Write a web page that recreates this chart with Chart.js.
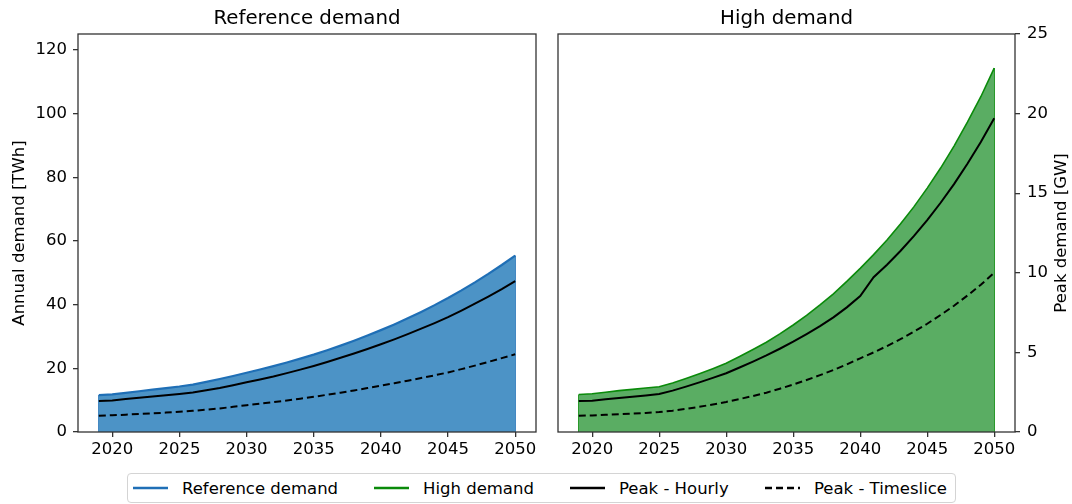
<!DOCTYPE html>
<html>
<head>
<meta charset="utf-8">
<script src="https://cdn.jsdelivr.net/npm/chart.js@4.4.1/dist/chart.umd.min.js"></script>
<style>
body { margin: 0; background: #fff; font-family: "DejaVu Sans", sans-serif; }
#wrap { position: relative; width: 1072px; height: 504px; overflow: hidden; }
canvas { position: absolute; top: 0; }
#left { left: 0; }
#right { left: 546px; }
#legend {
    position: absolute; left: 127px; top: 473px; width: 829px; height: 30px;
    box-sizing: border-box; border: 1px solid #d4d4d4; border-radius: 4px;
    font-size: 16.5px; color: #000; white-space: nowrap;
}
.item { position: absolute; top: 0; height: 28px; display: flex; align-items: center; }
.item svg { margin-right: 14px; }
</style>
</head>
<body>
<div id="wrap">
    <canvas id="left" width="546" height="464"></canvas>
    <canvas id="right" width="526" height="464"></canvas>
    <div id="legend"></div>
</div>
<script>
var years = [2019, 2020, 2021, 2022, 2023, 2024, 2025, 2026, 2027, 2028, 2029, 2030, 2031, 2032, 2033, 2034,
             2035, 2036, 2037, 2038, 2039, 2040, 2041, 2042, 2043, 2044, 2045, 2046, 2047, 2048, 2049, 2050];

// annual demand, TWh
var refDemand = [11.6, 11.8, 12.3, 12.8, 13.3, 13.8, 14.3, 14.9, 15.75, 16.65, 17.6, 18.6, 19.62, 20.7, 21.84, 23.04,
                 24.3, 25.67, 27.12, 28.66, 30.28, 31.99, 33.79, 35.7, 37.72, 39.85, 42.1, 44.48, 46.99, 49.65, 52.45, 55.42];
var highDemand = [11.8, 12.0, 12.5, 13.0, 13.4, 13.8, 14.2, 15.4, 16.8, 18.3, 19.9, 21.6, 23.7, 25.9, 28.2, 30.8,
                  33.6, 36.6, 39.9, 43.4, 47.3, 51.4, 55.7, 60.3, 65.3, 70.7, 76.6, 82.9, 89.8, 97.3, 105.3, 114.3];

// peak demand, GW
var refHourly = [1.95, 1.98, 2.07, 2.15, 2.23, 2.31, 2.39, 2.48, 2.62, 2.77, 2.94, 3.12, 3.30, 3.49, 3.70, 3.92,
                 4.15, 4.40, 4.66, 4.93, 5.21, 5.51, 5.82, 6.15, 6.49, 6.84, 7.21, 7.63, 8.06, 8.51, 8.98, 9.48];
var refTimeslice = [1.02, 1.05, 1.09, 1.13, 1.17, 1.22, 1.27, 1.33, 1.40, 1.48, 1.58, 1.68, 1.78, 1.88, 1.98, 2.09,
                    2.21, 2.34, 2.47, 2.61, 2.76, 2.91, 3.06, 3.22, 3.39, 3.56, 3.74, 3.95, 4.17, 4.40, 4.64, 4.88];
var highHourly = [1.95, 1.97, 2.05, 2.13, 2.21, 2.30, 2.39, 2.60, 2.85, 3.12, 3.40, 3.69, 4.05, 4.42, 4.81, 5.23,
                  5.67, 6.15, 6.65, 7.20, 7.83, 8.54, 9.72, 10.51, 11.37, 12.30, 13.31, 14.40, 15.57, 16.85, 18.22, 19.71];
var highTimeslice = [1.02, 1.04, 1.08, 1.12, 1.16, 1.20, 1.25, 1.34, 1.45, 1.58, 1.73, 1.89, 2.07, 2.26, 2.47, 2.72,
                     2.98, 3.27, 3.57, 3.89, 4.25, 4.63, 5.0, 5.4, 5.83, 6.3, 6.8, 7.35, 7.93, 8.57, 9.25, 10.0];

var xTicks = [2020, 2025, 2030, 2035, 2040, 2045, 2050];
var twhTicks = [0, 20, 40, 60, 80, 100, 120];
var gwTicks = [0, 5, 10, 15, 20, 25];

var FONT = '"DejaVu Sans"';
var AXIS = '#333';

function pts(vals) {
    return years.map(function(y, i) { return {x: y, y: vals[i]}; });
}

// box around the plot area, panel title, right hand label, and the side edges of the filled area
var framePlugin = {
    id: 'frame',
    beforeDatasetsDraw: function(chart, args, opts) {
        var ctx = chart.ctx, x = chart.scales.x, y = chart.scales.twh;
        var d = opts.edge;
        ctx.save();
        ctx.strokeStyle = opts.edgeColor;
        ctx.lineWidth = 1.3;
        [0, d.length - 1].forEach(function(i) {
            var px = x.getPixelForValue(years[i]);
            ctx.beginPath();
            ctx.moveTo(px, y.getPixelForValue(0));
            ctx.lineTo(px, y.getPixelForValue(d[i]));
            ctx.stroke();
        });
        ctx.restore();
    },
    afterDraw: function(chart, args, opts) {
        var a = chart.chartArea, ctx = chart.ctx;
        ctx.save();
        ctx.strokeStyle = AXIS;
        ctx.lineWidth = 1.3;
        ctx.strokeRect(a.left, a.top, a.right - a.left, a.bottom - a.top);
        ctx.fillStyle = '#000';
        ctx.textAlign = 'center';
        ctx.textBaseline = 'middle';
        ctx.font = '19.8px ' + FONT;
        ctx.fillText(opts.title, (a.left + a.right) / 2, 19);
        if (opts.rightLabel) {
            ctx.translate(chart.width - 10, (a.top + a.bottom) / 2);
            ctx.rotate(-Math.PI / 2);
            ctx.font = '16.5px ' + FONT;
            ctx.fillText(opts.rightLabel, 0, 0);
        }
        ctx.restore();
    }
};

function tickGrid() {
    return {display: true, drawOnChartArea: false, drawTicks: true, tickLength: 5, color: AXIS, lineWidth: 1.3};
}

function makeChart(id, demand, hourly, timeslice, lineColor, fillColor, title, leftSide) {
    var ctx = document.getElementById(id).getContext('2d');
    return new Chart(ctx, {
        type: 'line',
        data: {
            datasets: [
                {
                    label: 'Peak - Hourly', data: pts(hourly), yAxisID: 'gw', order: 1,
                    borderColor: '#000', borderWidth: 2, pointRadius: 0, fill: false
                },
                {
                    label: 'Peak - Timeslice', data: pts(timeslice), yAxisID: 'gw', order: 1,
                    borderColor: '#000', borderWidth: 2, borderDash: [7, 4], pointRadius: 0, fill: false
                },
                {
                    label: title, data: pts(demand), yAxisID: 'twh', order: 2,
                    borderColor: lineColor, borderWidth: leftSide ? 2.2 : 1.6, pointRadius: 0,
                    fill: 'origin', backgroundColor: fillColor
                }
            ]
        },
        options: {
            responsive: false,
            animation: false,
            events: [],
            layout: {padding: {top: 34, left: leftSide ? 0 : 12, right: leftSide ? 10 : 0, bottom: 0}},
            plugins: {
                legend: {display: false},
                tooltip: {enabled: false},
                frame: {title: title, rightLabel: leftSide ? null : 'Peak demand [GW]',
                        edge: demand, edgeColor: lineColor}
            },
            scales: {
                x: {
                    type: 'linear', min: 2017.45, max: 2051.55,
                    afterBuildTicks: function(s) { s.ticks = xTicks.map(function(v) { return {value: v}; }); },
                    afterFit: function(s) { s.height = 32; },
                    ticks: {font: {family: FONT, size: 16.5}, color: '#000', padding: 3, maxRotation: 0,
                            callback: function(v) { return String(v); }},
                    grid: tickGrid(),
                    border: {display: false}
                },
                twh: {
                    type: 'linear', position: 'left', min: 0, max: 125, display: leftSide,
                    afterBuildTicks: function(s) { s.ticks = twhTicks.map(function(v) { return {value: v}; }); },
                    afterFit: function(s) { s.width = leftSide ? 78 : 0; },
                    ticks: {font: {family: FONT, size: 16.5}, color: '#000', padding: 6,
                            callback: function(v) { return String(v); }},
                    grid: tickGrid(),
                    border: {display: false},
                    title: {display: true, text: 'Annual demand [TWh]', color: '#000',
                            font: {family: FONT, size: 16.5}, padding: {top: 10, bottom: 0}}
                },
                gw: {
                    type: 'linear', position: 'right', min: 0, max: 25, display: !leftSide,
                    afterBuildTicks: function(s) { s.ticks = gwTicks.map(function(v) { return {value: v}; }); },
                    afterFit: function(s) { s.width = leftSide ? 0 : 57; },
                    ticks: {font: {family: FONT, size: 16.5}, color: '#000', padding: 7,
                            callback: function(v) { return String(v); }},
                    grid: tickGrid(),
                    border: {display: false}
                }
            }
        },
        plugins: [framePlugin]
    });
}

makeChart('left', refDemand, refHourly, refTimeslice, '#1f6fb6', '#4c93c6', 'Reference demand', true);
makeChart('right', highDemand, highHourly, highTimeslice, '#0a8a0a', '#5aad63', 'High demand', false);

// shared legend under both panels
var legendItems = [
    {text: 'Reference demand', color: '#1f6fb6', dash: '', left: 5},
    {text: 'High demand', color: '#0a8a0a', dash: '', left: 246},
    {text: 'Peak - Hourly', color: '#000', dash: '', left: 442},
    {text: 'Peak - Timeslice', color: '#000', dash: '7,4', left: 637}
];
var legend = document.getElementById('legend');
legendItems.forEach(function(it) {
    var el = document.createElement('div');
    el.className = 'item';
    el.style.left = it.left + 'px';
    el.innerHTML = '<svg width="35" height="6"><line x1="0" y1="3" x2="35" y2="3" stroke="' + it.color +
        '" stroke-width="2.4"' + (it.dash ? ' stroke-dasharray="' + it.dash + '"' : '') + '/></svg>' +
        '<span>' + it.text + '</span>';
    legend.appendChild(el);
});
</script>
</body>
</html>
